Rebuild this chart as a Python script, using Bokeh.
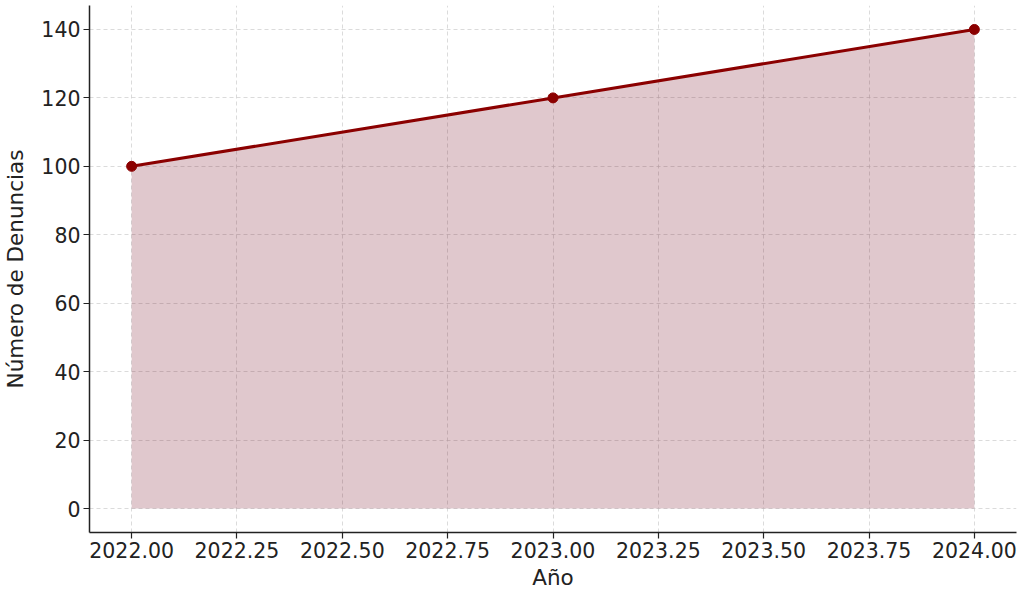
from bokeh.plotting import figure
from bokeh.models import FixedTicker, NumeralTickFormatter, Range1d
from bokeh.embed import file_html
from bokeh.resources import INLINE

years = [2022, 2023, 2024]
denuncias = [100, 120, 140]
x_ticks = [2022.0, 2022.25, 2022.5, 2022.75, 2023.0, 2023.25, 2023.5, 2023.75, 2024.0]
y_ticks = [0, 20, 40, 60, 80, 100, 120, 140]

p = figure(width=1024, height=592, output_backend="svg", toolbar_location=None,
           x_range=Range1d(2021.9, 2024.1), y_range=Range1d(-7, 147),
           min_border_left=87, min_border_right=8, min_border_top=5, min_border_bottom=60)
p.outline_line_color = None
p.background_fill_color = "white"
p.border_fill_color = "white"

color = "#8b0000"
p.varea(x=years, y1=[0] * len(years), y2=denuncias, fill_color="#72051c", fill_alpha=0.22)
p.line(years, denuncias, line_color=color, line_width=3)
p.scatter(years, denuncias, size=10, fill_color=color, line_color=color)

for ax in (p.xaxis[0], p.yaxis[0]):
    ax.axis_line_color = "#222222"
    ax.axis_line_width = 1.5
    ax.major_tick_line_color = "#222222"
    ax.major_tick_line_width = 1.2
    ax.major_tick_out = 6
    ax.major_tick_in = 0
    ax.minor_tick_line_color = None
    ax.major_label_text_font = "DejaVu Sans"
    ax.major_label_text_font_size = "20.5px"
    ax.major_label_text_color = "#222222"
    ax.axis_label_text_font = "DejaVu Sans"
    ax.axis_label_text_font_size = "21.5px"
    ax.axis_label_text_font_style = "normal"
    ax.axis_label_text_color = "#222222"

p.xaxis.ticker = FixedTicker(ticks=x_ticks)
p.xaxis.formatter = NumeralTickFormatter(format="0.00")
p.yaxis.ticker = FixedTicker(ticks=y_ticks)
p.xaxis.axis_label = "Año"
p.yaxis.axis_label = "Número de Denuncias"
p.xaxis.major_label_standoff = 3
p.xaxis.axis_label_standoff = 4
p.yaxis.major_label_standoff = 3
p.yaxis.axis_label_standoff = 10

p.grid.grid_line_color = "#cccccc"
p.grid.grid_line_dash = "4 3"
p.grid.grid_line_alpha = 0.7

open("out.html", "w").write(file_html(p, INLINE))
